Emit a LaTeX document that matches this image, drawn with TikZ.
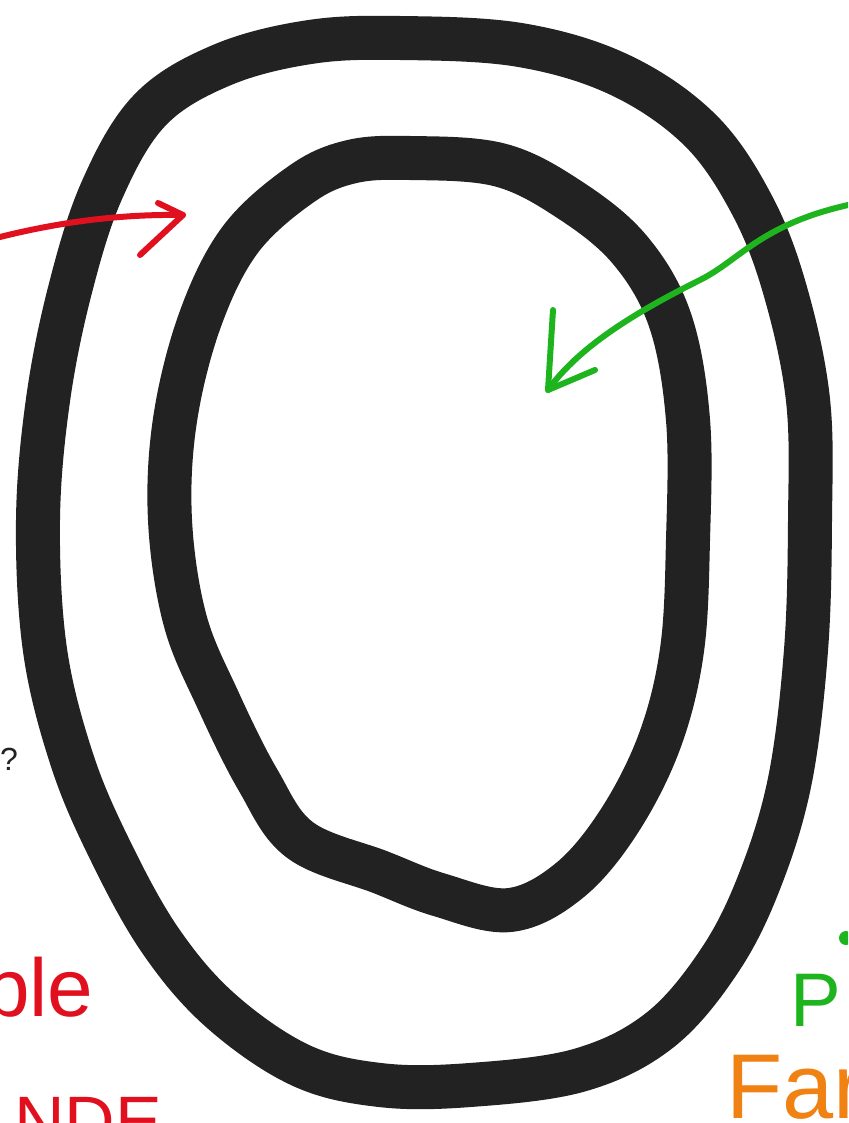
\documentclass[tikz,border=0pt]{standalone}
\usepackage{fontspec}
\setmainfont{Liberation Sans}
\definecolor{ink}{HTML}{222222}
\definecolor{pred}{HTML}{E0101E}
\definecolor{pgreen}{HTML}{1EB41E}
\definecolor{porange}{HTML}{F08214}
\begin{document}
\begin{tikzpicture}[x=1pt,y=-1pt,
  loop/.style={draw=ink,line width=44pt,line join=round,line cap=round},
  redpen/.style={draw=pred,line width=6pt,line cap=round,line join=round},
  greenpen/.style={draw=pgreen,line width=6pt,line cap=round,line join=round},
  txt/.style={inner sep=0pt,anchor=base west}]
\useasboundingbox (0,0) rectangle (848,1123);
\clip (0,0) rectangle (848,1123);
% outer loop
\draw[loop] plot[smooth cycle,tension=0.6] coordinates {
 (400,38) (520,45) (620,75) (700,130) (752,205) (785,290) (808,400) (810,520)
 (806,650) (790,780) (760,880) (720,960) (660,1030) (580,1070) (470,1085)
 (380,1085) (300,1065) (220,1010) (160,940) (110,850) (72,760) (45,650)
 (38,520) (48,400) (70,290) (102,190) (150,110) (222,65) (310,42)};
% inner loop
\draw[loop] plot[smooth cycle,tension=0.6] coordinates {
 (410,158) (500,165) (570,200) (630,250) (670,320) (688,420) (688,540)
 (682,650) (660,740) (620,820) (570,880) (510,910) (440,895) (380,872)
 (300,840) (258,780) (218,700) (185,620) (170,520) (175,420) (200,320)
 (240,240) (300,185) (350,162)};
% red arrow
\coordinate (rs) at (0,237);
\coordinate (rt) at (183,215);
\draw[redpen] (rs) .. controls (60,222) and (120,214) .. (rt);
\draw[redpen] (158,203) -- (rt) -- (140,255);
% green arrow
\coordinate (gs) at (848,205);
\coordinate (gt) at (548,390);
\draw[greenpen] (gs) .. controls (760,225) and (740,260) .. (700,280) .. controls (640,310) and (580,345) .. (gt);
\draw[greenpen] (553,310) -- (gt) -- (595,370);
% texts
\node[txt,font=\fontsize{32}{32}\selectfont,text=ink] (q) at (0,770) {?};
\node[txt,font=\fontsize{82}{82}\selectfont,text=pred] (ble) at (-16,1016) {ble};
\node[txt,font=\fontsize{70}{70}\selectfont,text=pred] (nde) at (14,1145) {NDE};
\node[txt,font=\fontsize{76}{76}\selectfont,text=pgreen] (p) at (790,1026) {P};
\fill[pgreen] (846,938) circle (7);
\node[txt,font=\fontsize{92}{92}\selectfont,text=porange] (far) at (726,1118) {Far};
\end{tikzpicture}
\end{document}
